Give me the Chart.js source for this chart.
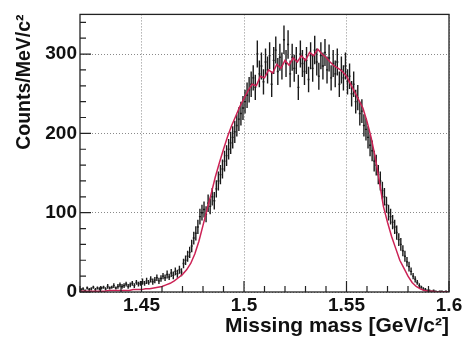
<!DOCTYPE html>
<html>
<head>
<meta charset="utf-8">
<script src="https://cdn.jsdelivr.net/npm/chart.js@4/dist/chart.umd.min.js"></script>
<style>
  html, body { margin: 0; padding: 0; background: #fff; }
</style>
</head>
<body>
<canvas id="massChart" width="466" height="342"></canvas>
<script>
// Missing mass spectrum: data (1 MeV bins, with errors) and simulation curve

const binStart = 1.420;
const binWidth = 0.001;

const counts = [
    3, 4, 2, 5, 3, 4, 6, 3, 5, 4,
    5, 6, 4, 7, 5, 6, 8, 5, 7, 9,
    7, 8, 10, 7, 9, 11, 8, 12, 10, 11,
    13, 11, 14, 12, 16, 13, 15, 18, 14, 17,
    20, 18, 22, 19, 24, 21, 26, 23, 28, 25,
    36, 40, 45, 50, 58, 68, 74, 82, 95, 100,
    104, 98, 112, 108, 120, 115, 130, 140, 148, 155,
    165, 172, 180, 188, 195, 202, 210, 218, 225, 232,
    240, 248, 255, 262, 270, 258, 300, 275, 285, 265,
    290, 280, 298, 262, 292, 305, 278, 296, 285, 318,
    288, 312, 275, 296, 282, 292, 258, 300, 288, 278,
    292, 268, 298, 282, 305, 290, 272, 298, 285, 302,
    280, 295, 270, 288, 275, 290, 262, 280, 270, 285,
    265, 272, 250, 262, 240, 245, 225, 228, 210, 205,
    195, 185, 178, 165, 160, 148, 140, 128, 120, 110,
    100, 95, 88, 82, 75, 66, 60, 52, 45, 38,
    32, 26, 20, 16, 12, 8, 6, 4, 3, 2,
    2, 1, 2, 1, 0, 1, 1, 0, 1, 0
];

const countErrors = [
    2, 2, 1, 2, 2, 2, 2, 2, 2, 2,
    2, 2, 2, 3, 2, 2, 3, 2, 3, 3,
    3, 3, 3, 3, 3, 3, 3, 3, 3, 3,
    4, 3, 4, 3, 4, 4, 4, 4, 4, 4,
    4, 4, 5, 4, 5, 5, 5, 5, 5, 5,
    6, 6, 7, 7, 8, 8, 9, 9, 10, 10,
    10, 10, 11, 10, 11, 11, 11, 12, 12, 12,
    13, 13, 13, 14, 14, 14, 14, 15, 15, 15,
    15, 16, 16, 16, 16, 16, 17, 17, 17, 16,
    17, 17, 17, 16, 17, 17, 17, 17, 17, 18,
    17, 18, 17, 17, 17, 17, 16, 17, 17, 17,
    17, 16, 17, 17, 18, 17, 17, 17, 17, 17,
    17, 17, 16, 17, 17, 17, 16, 17, 16, 17,
    16, 16, 16, 16, 15, 16, 15, 15, 14, 14,
    14, 14, 13, 13, 13, 12, 12, 11, 11, 10,
    10, 10, 9, 9, 9, 8, 8, 7, 7, 6,
    6, 5, 4, 4, 3, 3, 2, 2, 2, 1,
    1, 1, 1, 1, 0, 1, 1, 0, 1, 0
];

// simulation, sampled every 2 MeV
const simStart = 1.420;
const simStep = 0.002;
const simCurve = [
    1, 1, 1, 1, 1, 1, 1, 2, 2, 2,
    2, 2, 2, 3, 3, 3, 4, 4, 5, 6,
    7, 9, 11, 14, 18, 22, 28, 36, 48, 64,
    84, 104, 124, 145, 163, 180, 196, 210, 222, 234,
    244, 254, 262, 260, 272, 270, 280, 276, 287, 282,
    292, 286, 295, 290, 298, 292, 302, 298, 306, 300,
    296, 290, 285, 282, 278, 272, 262, 252, 242, 232,
    215, 195, 170, 140, 108, 88, 70, 55, 40, 30,
    20, 12, 7, 4, 2, 1, 1, 0, 0, 0,
    0
];

const xTicks = [1.45, 1.5, 1.55, 1.6];
const yTicks = [0, 100, 200, 300];

const fontFamily = '"Liberation Sans", Arial, Helvetica, sans-serif';
const labelFont = { family: fontFamily, size: 19, weight: 'bold' };
const xTitleFont = { family: fontFamily, size: 21, weight: 'bold' };
const yTitleFont = { family: fontFamily, size: 19.5, weight: 'bold' };
const redColor = '#cc2255';

const dataPoints = counts.map((c, i) => ({ x: binStart + (i + 0.5) * binWidth, y: c }));
const simPoints = simCurve.map((v, i) => ({ x: simStart + i * simStep, y: v }));

// error bars + ROOT-style frame and inner ticks
const histPlugin = {
    id: 'histPlugin',
    beforeDatasetsDraw(chart) {
        const { ctx, chartArea, scales: { x, y } } = chart;
        ctx.save();
        ctx.beginPath();
        ctx.rect(chartArea.left, chartArea.top, chartArea.width, chartArea.height);
        ctx.clip();
        ctx.strokeStyle = '#1a1a1a';
        ctx.lineWidth = 1.4;
        counts.forEach((c, i) => {
            const lo = binStart + i * binWidth;
            const x0 = x.getPixelForValue(lo);
            const x1 = x.getPixelForValue(lo + binWidth);
            const xc = x.getPixelForValue(lo + binWidth / 2);
            const yc = y.getPixelForValue(c);
            ctx.beginPath();
            ctx.moveTo(x0, yc);
            ctx.lineTo(x1, yc);
            const e = countErrors[i];
            if (e > 0) {
                ctx.moveTo(xc, y.getPixelForValue(c - e));
                ctx.lineTo(xc, y.getPixelForValue(c + e));
            }
            ctx.stroke();
        });
        ctx.restore();
    },
    afterDraw(chart) {
        const { ctx, chartArea, scales: { x, y } } = chart;
        ctx.save();
        ctx.strokeStyle = '#222';
        ctx.lineWidth = 1.3;
        ctx.strokeRect(chartArea.left, chartArea.top, chartArea.width, chartArea.height);

        ctx.lineWidth = 1.2;
        ctx.beginPath();
        // y ticks every 20, major every 100
        for (let v = 0; v <= 340; v += 20) {
            const py = y.getPixelForValue(v);
            const len = v % 100 === 0 ? 11 : 6;
            ctx.moveTo(chartArea.left, py);
            ctx.lineTo(chartArea.left + len, py);
        }
        // x ticks every 0.01, major every 0.05
        for (let k = 142; k <= 160; k++) {
            const px = x.getPixelForValue(k / 100);
            const len = k % 5 === 0 ? 11 : 6;
            ctx.moveTo(px, chartArea.bottom);
            ctx.lineTo(px, chartArea.bottom - len);
        }
        ctx.stroke();
        ctx.restore();
    }
};

const ctx = document.getElementById('massChart').getContext('2d');
new Chart(ctx, {
    type: 'scatter',
    data: {
        datasets: [
            {
                label: 'Data',
                data: dataPoints,
                showLine: false,
                pointRadius: 0,
                borderColor: '#1a1a1a'
            },
            {
                label: 'Simulation',
                data: simPoints,
                showLine: true,
                pointRadius: 0,
                borderColor: redColor,
                borderWidth: 1.5,
                tension: 0
            }
        ]
    },
    options: {
        responsive: false,
        animation: false,
        devicePixelRatio: 1,
        layout: { padding: { top: 12, right: 17, left: 0, bottom: 0 } },
        plugins: {
            legend: { display: false },
            tooltip: { enabled: false }
        },
        scales: {
            x: {
                type: 'linear',
                min: 1.42,
                max: 1.6,
                afterBuildTicks: s => { s.ticks = xTicks.map(v => ({ value: v })); },
                afterFit: s => { s.height = 50; },
                ticks: {
                    font: labelFont,
                    color: '#111',
                    padding: 2,
                    maxRotation: 0,
                    autoSkip: false,
                    callback: v => String(v)
                },
                grid: { color: '#8a8a8a', lineWidth: 1, drawTicks: false },
                border: { display: false, dash: [1, 2] },
                title: {
                    display: true,
                    text: 'Missing mass [GeV/c²]',
                    align: 'end',
                    color: '#111',
                    font: xTitleFont,
                    padding: { top: 0, bottom: 3 }
                }
            },
            y: {
                min: 0,
                max: 350,
                afterBuildTicks: s => { s.ticks = yTicks.map(v => ({ value: v })); },
                afterFit: s => { s.width = 80; },
                ticks: {
                    font: labelFont,
                    color: '#111',
                    padding: 3
                },
                grid: { color: '#8a8a8a', lineWidth: 1, drawTicks: false },
                border: { display: false, dash: [1, 2] },
                title: {
                    display: true,
                    text: 'Counts/MeV/c²',
                    align: 'end',
                    color: '#111',
                    font: yTitleFont,
                    padding: { top: 13, bottom: 0 }
                }
            }
        }
    },
    plugins: [histPlugin]
});
</script>
</body>
</html>
